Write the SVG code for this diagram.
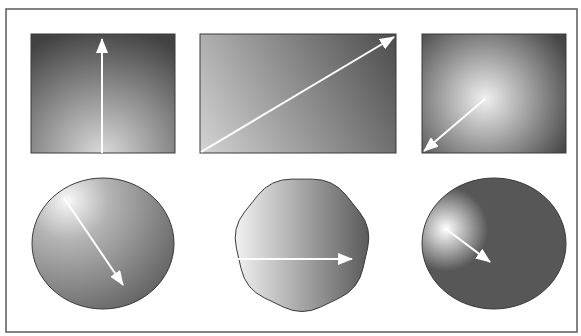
<svg xmlns="http://www.w3.org/2000/svg" width="581" height="336" viewBox="0 0 581 336">
  <style>
    .shape { stroke: #3a3a3a; stroke-width: 1; }
    .arrow { stroke: #ffffff; stroke-width: 2; fill: none; marker-end: url(#head); }
  </style>
  <defs>
    <marker id="head" viewBox="0 0 15 12" refX="14" refY="6" markerWidth="15" markerHeight="12" markerUnits="userSpaceOnUse" orient="auto">
      <path d="M0,0 L15,6 L0,12 Z" fill="#ffffff"/>
    </marker>
    <radialGradient id="g1" gradientUnits="userSpaceOnUse" cx="102" cy="156" r="130">
      <stop offset="0" stop-color="#dcdcdc"/>
      <stop offset="1" stop-color="#424242"/>
    </radialGradient>
    <linearGradient id="g2" gradientUnits="userSpaceOnUse" x1="201" y1="152" x2="394" y2="37">
      <stop offset="0" stop-color="#d2d2d2"/>
      <stop offset="1" stop-color="#4e4e4e"/>
    </linearGradient>
    <radialGradient id="g3" gradientUnits="userSpaceOnUse" cx="485" cy="99" r="95">
      <stop offset="0" stop-color="#f0f0f0"/>
      <stop offset="1" stop-color="#464646"/>
    </radialGradient>
    <radialGradient id="g4" gradientUnits="userSpaceOnUse" cx="68" cy="200" r="135">
      <stop offset="0" stop-color="#f8f8f8"/>
      <stop offset="0.3" stop-color="#b4b4b4"/>
      <stop offset="1" stop-color="#5a5a5a"/>
    </radialGradient>
    <linearGradient id="g5" gradientUnits="userSpaceOnUse" x1="235" y1="0" x2="369" y2="0">
      <stop offset="0" stop-color="#f2f2f2"/>
      <stop offset="1" stop-color="#5a5a5a"/>
    </linearGradient>
    <radialGradient id="g6" gradientUnits="userSpaceOnUse" cx="446" cy="229" r="42">
      <stop offset="0" stop-color="#ffffff"/>
      <stop offset="1" stop-color="#575757"/>
    </radialGradient>
  </defs>

  <rect x="6" y="9" width="571" height="323" fill="#ffffff" stroke="#5a5a5a" stroke-width="1.5"/>

  <g id="rect-vertical">
    <rect class="shape" x="31" y="34" width="144" height="119" fill="url(#g1)"/>
  </g>
  <g id="rect-diagonal">
    <rect class="shape" x="200" y="34" width="196" height="119" fill="url(#g2)"/>
  </g>
  <g id="rect-radial">
    <rect class="shape" x="422" y="34" width="144" height="119" fill="url(#g3)"/>
  </g>
  <g id="ellipse-left">
    <ellipse class="shape" cx="103" cy="243.5" rx="71" ry="65.5" fill="url(#g4)"/>
  </g>
  <g id="heptagon">
    <path class="shape" fill="url(#g5)" d="M291.38,179.13 L312.62,179.13 Q333.24,179.13 346.09,195.25 L359.34,211.86 Q372.19,227.98 367.60,248.08 L362.88,268.79 Q358.29,288.89 339.71,297.84 L320.58,307.05 Q302,316 283.42,307.05 L264.29,297.84 Q245.71,288.89 241.12,268.79 L236.40,248.08 Q231.81,227.98 244.66,211.86 L257.91,195.25 Q270.76,179.13 291.38,179.13 Z"/>
  </g>
  <g id="ellipse-right">
    <ellipse class="shape" cx="494" cy="243.5" rx="72" ry="65.5" fill="url(#g6)"/>
  </g>

  <g id="connectors">
    <line class="arrow" x1="102" y1="153" x2="102" y2="39"/>
    <line class="arrow" x1="201" y1="152" x2="394" y2="37"/>
    <line class="arrow" x1="485" y1="99" x2="424" y2="151"/>
    <line class="arrow" x1="64" y1="198" x2="123" y2="285"/>
    <line class="arrow" x1="237" y1="259" x2="352" y2="259"/>
    <line class="arrow" x1="446" y1="229" x2="490" y2="262"/>
  </g>
</svg>
